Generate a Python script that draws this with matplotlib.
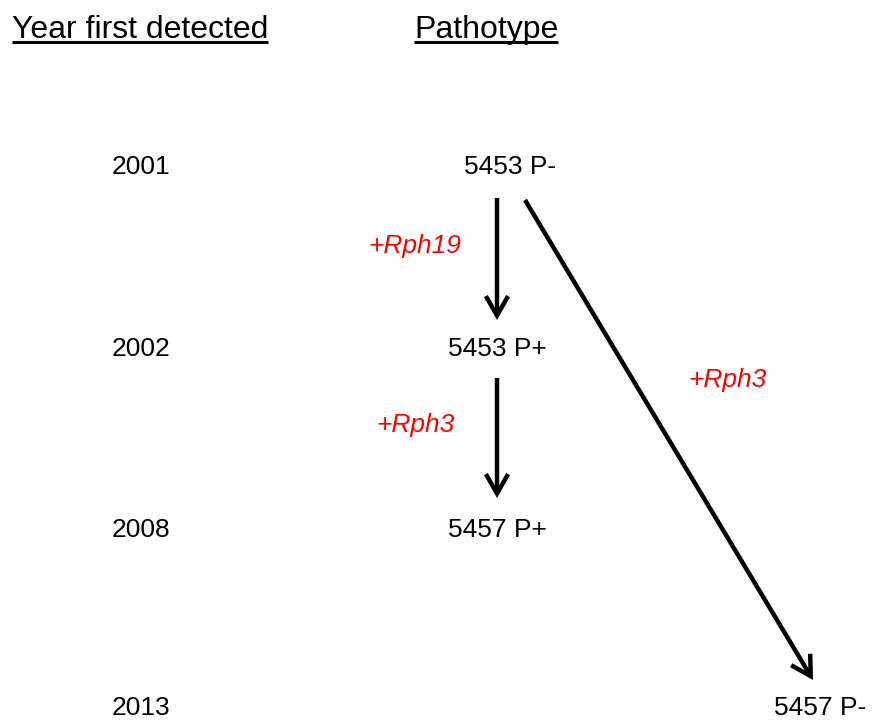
import matplotlib
matplotlib.use("Agg")
import matplotlib.pyplot as plt
from matplotlib.patches import FancyArrowPatch, ArrowStyle

# ---- data ----
headers = ["Year first detected", "Pathotype"]
years = ["2001", "2002", "2008", "2013"]
pathotypes = ["5453 P-", "5453 P+", "5457 P+", "5457 P-"]
# transitions: (from index, to index, gene gained)
transitions = [(0, 1, "Rph19"), (1, 2, "Rph3"), (0, 3, "Rph3")]

# ---- layout (pixels) ----
W, H = 874, 720
row_y = [167, 349, 530, 708]
year_x = 141
path_x = [510, 497, 497, 820]
header_x = [12, 414]
header_base = 38
underline_y = 42
arrow_geom = [((497, 198), (497, 320)), ((497, 378), (497, 498)), ((525, 200), (813, 680))]
label_pos = [(415, 246), (415, 425), (727, 380)]

plt.rcParams['font.family'] = ['Liberation Sans', 'DejaVu Sans']
fig = plt.figure(figsize=(W / 100, H / 100), dpi=100)
ax = fig.add_axes([0, 0, 1, 1])
ax.set_xlim(0, W)
ax.set_ylim(H, 0)
ax.axis('off')

fig.canvas.draw()
renderer = fig.canvas.get_renderer()
for hx, htxt in zip(header_x, headers):
    t = ax.text(hx, header_base, htxt, fontsize=23, ha='left', va='baseline', color='black')
    bb = t.get_window_extent(renderer=renderer)
    x0, _ = ax.transData.inverted().transform((bb.x0, 0))
    x1, _ = ax.transData.inverted().transform((bb.x1, 0))
    ax.plot([x0, x1], [underline_y, underline_y], color='black', lw=2.2, solid_capstyle='butt')

for y, yr in zip(row_y, years):
    ax.text(year_x, y, yr, fontsize=19, ha='center', va='center', color='black')

for x, y, p in zip(path_x, row_y, pathotypes):
    ax.text(x, y, p, fontsize=19, ha='center', va='center', color='black')

style = ArrowStyle('->', head_length=14, head_width=8)
for (a, b, gene), (p0, p1), (lx, ly) in zip(transitions, arrow_geom, label_pos):
    arr = FancyArrowPatch(p0, p1, arrowstyle=style, mutation_scale=1, lw=3.2,
                          color='black', shrinkA=0, shrinkB=0, joinstyle='miter',
                          capstyle='butt')
    ax.add_patch(arr)
    ax.text(lx, ly, "+" + gene, fontsize=19, style='italic', color='#ff0000',
            ha='center', va='center')

fig.savefig("out.png", dpi=100)
